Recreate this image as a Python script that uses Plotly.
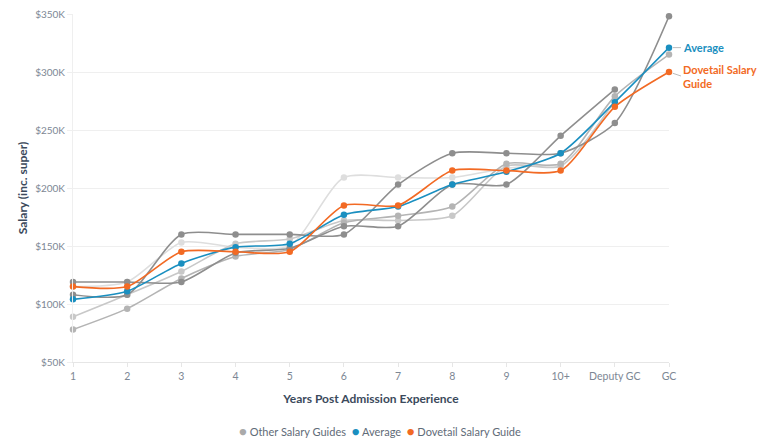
import plotly.graph_objects as go

categories = ["1", "2", "3", "4", "5", "6", "7", "8", "9", "10+", "Deputy GC", "GC"]

# Other salary guides (values in $)
guide_a = [108000, 108000, 160000, 160000, 160000, 160000, 203000, 230000, 230000, 230000, 256000, 348000]
guide_b = [119000, 119000, 119000, 144000, 148000, 167000, 167000, 203000, 203000, 245000, 285000, None]
guide_c = [78000, 96000, 122000, 141000, 147000, 170000, 176000, 184000, 221000, 221000, 279000, 315000]
guide_d = [89000, 108000, 128000, 152000, 156000, 172000, 172000, 176000, 219000, 219000, 275000, None]
guide_e = [115000, 119000, 153000, 149000, 150000, 209000, 209000, 209000, 217000, 220000, None, None]

average = [104000, 111000, 135000, 149000, 152000, 177000, 184000, 203000, 214000, 230000, 274000, 321000]
dovetail = [115000, 115000, 145000, 145000, 145000, 185000, 185000, 215000, 215000, 215000, 270000, 300000]

y_tick_vals = [50000, 100000, 150000, 200000, 250000, 300000, 350000]
y_tick_text = ["$50K", "$100K", "$150K", "$200K", "$250K", "$300K", "$350K"]

legend_names = ["Other Salary Guides", "Average", "Dovetail Salary Guide"]

guides = [
    (guide_e, "#dedede"),
    (guide_d, "#c8c8c8"),
    (guide_c, "#b4b4b4"),
    (guide_b, "#8e8e8e"),
    (guide_a, "#8e8e8e"),
]

GREY = "#aaaaaa"
BLUE = "#1a8fc0"
ORANGE = "#f26a24"
FONT = "Lato"
TICK_COLOR = "#7d8794"
TITLE_COLOR = "#3b4a5c"
SMOOTH = 0.7

fig = go.Figure()

for vals, col in guides:
    fig.add_trace(go.Scatter(
        x=categories, y=vals, mode="lines+markers", name=legend_names[0],
        line=dict(color=col, width=1.6, shape="spline", smoothing=SMOOTH),
        marker=dict(color=col, size=6.5),
        showlegend=False, cliponaxis=False, hoverinfo="skip",
    ))

fig.add_trace(go.Scatter(
    x=categories, y=average, mode="lines+markers", name=legend_names[1],
    line=dict(color=BLUE, width=1.6, shape="spline", smoothing=SMOOTH),
    marker=dict(color=BLUE, size=6.5), showlegend=False, cliponaxis=False,
))
fig.add_trace(go.Scatter(
    x=categories, y=dovetail, mode="lines+markers", name=legend_names[2],
    line=dict(color=ORANGE, width=1.6, shape="spline", smoothing=SMOOTH),
    marker=dict(color=ORANGE, size=6.5), showlegend=False, cliponaxis=False,
))

# legend drawn as a single line of real text with coloured dots
legend_text = "&nbsp;&nbsp;".join(
    f"<span style='color:{c}; font-size:13px'>●</span> <span style='color:#5f6b78'>{n}</span>"
    for n, c in zip(legend_names, [GREY, BLUE, ORANGE])
)
fig.add_annotation(xref="paper", yref="paper", x=0.515, y=-0.198, text=legend_text,
                   showarrow=False, xanchor="center", yanchor="middle",
                   font=dict(size=11, family=FONT))

# end labels
fig.add_annotation(x=categories[-1], y=average[-1], text="<b>Average</b>", showarrow=True,
                   ax=12, ay=0, arrowhead=0, arrowwidth=1, arrowcolor="#bbbbbb", standoff=4,
                   xanchor="left", yanchor="middle", align="left",
                   font=dict(color=BLUE, size=11, family=FONT))
fig.add_annotation(x=categories[-1], y=dovetail[-1], text="<b>Dovetail Salary<br>Guide</b>", showarrow=True,
                   ax=12, ay=4, arrowhead=0, arrowwidth=1, arrowcolor="#bbbbbb", standoff=4,
                   xanchor="left", yanchor="middle", align="left",
                   font=dict(color=ORANGE, size=11, family=FONT))

# the page body adds an 8px margin, so the figure is sized to fit the 768x446 window
fig.update_layout(
    width=760, height=438,
    margin=dict(l=65, r=99, t=6, b=84),
    paper_bgcolor="white", plot_bgcolor="white",
    font=dict(family=FONT, color=TICK_COLOR, size=11),
    showlegend=False,
)
fig.update_xaxes(
    type="category", categoryorder="array", categoryarray=categories,
    range=[0, len(categories) - 1], automargin=False,
    showgrid=False, showline=True, linecolor="#e6e6e6", linewidth=1,
    ticks="outside", ticklen=4, tickcolor="#e6e6e6",
    tickfont=dict(size=10.5, color=TICK_COLOR),
    title=dict(text="<b>Years Post Admission Experience</b>", standoff=14,
               font=dict(size=12, color=TITLE_COLOR)),
    zeroline=False,
)
fig.update_yaxes(
    range=[50000, 350000], tickvals=y_tick_vals, ticktext=y_tick_text, automargin=False,
    ticklabeloverflow="allow",
    showgrid=True, gridcolor="#efefef", gridwidth=1,
    showline=True, linecolor="#efefef",
    ticks="outside", ticklen=5, tickcolor="#efefef",
    tickfont=dict(size=10, color=TICK_COLOR),
    title=dict(text="<b>Salary (inc. super)</b>", standoff=4,
               font=dict(size=12, color=TITLE_COLOR)),
    zeroline=False,
)

fig.write_html("out.html")
